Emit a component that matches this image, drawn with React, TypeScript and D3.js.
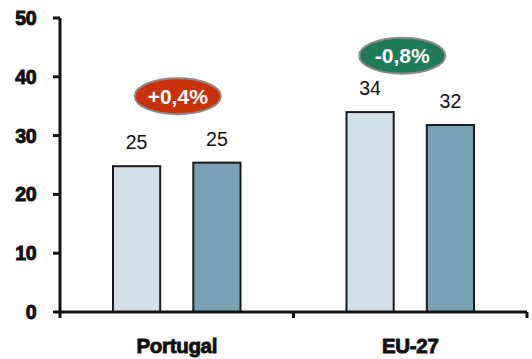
import React from 'react'
import * as d3 from 'd3'

// data
const categories = ['Portugal', 'EU-27']
const seriesA = [24.8, 34.0]
const seriesB = [25.4, 31.8]
const labelsA = ['25', '34']
const labelsB = ['25', '32']
const changes = ['+0,4%', '-0,8%']
const changeLevels = [36.7, 43.6]
const changeColors = ['#c93208', '#1f7a58']
const yTicks = [0, 10, 20, 30, 40, 50]

const width = 532
const height = 359
const margin = { top: 18, right: 5, bottom: 47, left: 60 }

export default function App() {
  const innerW = width - margin.left - margin.right
  const innerH = height - margin.top - margin.bottom

  const x = d3.scaleBand().domain(categories).range([0, innerW]).padding(0)
  const y = d3.scaleLinear().domain([0, 50]).range([innerH, 0])

  // bars inside each category
  const bw = x.bandwidth()
  const xs = d3.scaleBand<number>().domain([0, 1]).range([bw * 0.227, bw * 0.773]).paddingInner(0.4125).paddingOuter(0)

  const font = 'Arial, "Liberation Sans", sans-serif'
  const fills = ['#d2dfe6', '#79a3b4']

  return (
    <svg width={width} height={height} style={{ position: 'absolute', left: 0, top: 0, background: '#fff' }}>
      <g transform={`translate(${margin.left},${margin.top})`}>
        {categories.map((c, i) => {
          const vals = [seriesA[i], seriesB[i]]
          const labs = [labelsA[i], labelsB[i]]
          const bx = bw / 2 + (i === 0 ? 1 : -8)
          return (
            <g key={c} transform={`translate(${x(c)},0)`}>
              {vals.map((v, j) => (
                <g key={j}>
                  <rect x={xs(j)} y={y(v)} width={xs.bandwidth()} height={innerH - y(v)}
                    fill={fills[j]} stroke="#1a1a1a" strokeWidth={2} />
                  <text x={(xs(j) as number) + xs.bandwidth() / 2} y={y(v) - 17} textAnchor="middle"
                    fontFamily={font} fontSize={19.5} fill="#111">{labs[j]}</text>
                </g>
              ))}
              <ellipse cx={bx} cy={y(changeLevels[i])} rx={43} ry={18}
                fill={changeColors[i]} stroke="#8a8a8a" strokeWidth={2} />
              <text x={bx} y={y(changeLevels[i]) + 7.5} textAnchor="middle"
                fontFamily={font} fontSize={21} fontWeight="bold" fill="#fff">{changes[i]}</text>
              <text x={bw / 2} y={innerH + 41} textAnchor="middle" fontFamily={font} fontSize={20.5}
                fontWeight="bold" fill="#111" stroke="#111" strokeWidth={0.9} letterSpacing={-0.3}>{c}</text>
            </g>
          )
        })}

        {/* y axis */}
        <line x1={0} x2={0} y1={0} y2={innerH} stroke="#111" strokeWidth={3} />
        {yTicks.map(t => (
          <g key={t} transform={`translate(0,${y(t)})`}>
            <line x1={-7} x2={0} stroke="#111" strokeWidth={3} />
            <text x={-24} y={7} textAnchor="end" fontFamily={font} fontSize={19.5} fontWeight="bold"
              fill="#111" stroke="#111" strokeWidth={0.9} letterSpacing={-0.5}>{t}</text>
          </g>
        ))}

        {/* x axis */}
        <line x1={-1.5} x2={innerW} y1={innerH} y2={innerH} stroke="#111" strokeWidth={3} />
        {[0, innerW / 2, innerW].map((t, i) => (
          <line key={i} x1={t} x2={t} y1={innerH} y2={innerH + 6} stroke="#111" strokeWidth={3} />
        ))}
      </g>
    </svg>
  )
}
